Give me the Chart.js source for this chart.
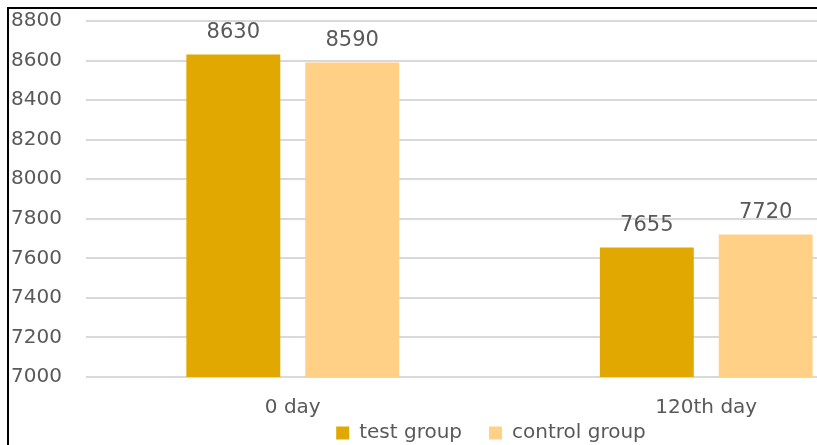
<!DOCTYPE html>
<html>
<head>
<meta charset="utf-8">
<script src="https://cdn.jsdelivr.net/npm/chart.js@4.4.1/dist/chart.umd.min.js"></script>
<style>
  html, body { margin: 0; padding: 0; background: #fff; overflow: hidden; }
  #frame {
    position: absolute; left: 7px; top: 7px;
    border-left: 2px solid #000; border-top: 2px solid #000;
    width: 808px; height: 436px; overflow: hidden;
  }
  #chart { display: block; }
</style>
</head>
<body>
<div id="frame"><canvas id="chart" width="964" height="436"></canvas></div>
<script>
const days = ['0 day', '120th day'];
const testGroup = [8630, 7655];
const controlGroup = [8590, 7720];
const yTicks = [7000, 7200, 7400, 7600, 7800, 8000, 8200, 8400, 8600, 8800];

const FONT = 'DejaVu Sans';
const GREY = '#595959';

// writes each bar's value just above it
const valueLabels = {
    id: 'valueLabels',
    afterDatasetsDraw(chart) {
        const c = chart.ctx;
        c.save();
        c.font = '21px "' + FONT + '"';
        c.fillStyle = GREY;
        c.textAlign = 'center';
        c.textBaseline = 'middle';
        chart.data.datasets.forEach((ds, i) => {
            chart.getDatasetMeta(i).data.forEach((bar, j) => {
                c.fillText(ds.data[j], bar.x, bar.y - 22);
            });
        });
        c.restore();
    }
};

// legend padding is wide between items; keep its box short and move the row
const LEGEND_DX = 30;
const LEGEND_DY = -23;
const shortLegend = {
    id: 'shortLegend',
    beforeInit(chart) {
        const legend = chart.legend;
        const fit = legend.fit;
        const draw = legend.draw;
        legend.fit = function () {
            fit.call(this);
            this.height = 26;
        };
        legend.draw = function () {
            this.top += LEGEND_DY;
            this.left += LEGEND_DX;
            this.right += LEGEND_DX;
            draw.call(this);
            this.top -= LEGEND_DY;
            this.left -= LEGEND_DX;
            this.right -= LEGEND_DX;
        };
    }
};

new Chart(document.getElementById('chart'), {
    type: 'bar',
    data: {
        labels: days,
        datasets: [
            { label: 'test group', data: testGroup, backgroundColor: '#E0A800' },
            { label: 'control group', data: controlGroup, backgroundColor: '#FFD085' }
        ]
    },
    options: {
        responsive: false,
        animation: false,
        datasets: { bar: { categoryPercentage: 0.575, barPercentage: 0.79 } },
        layout: { padding: { left: 0, top: 12, right: 60, bottom: 0 } },
        scales: {
            x: {
                grid: { display: false },
                border: { display: false },
                afterFit: (axis) => { axis.height = 42; },
                ticks: { color: GREY, font: { family: FONT, size: 20 }, padding: 11 }
            },
            y: {
                min: 7000,
                max: 8800,
                afterBuildTicks: (axis) => { axis.ticks = yTicks.map(v => ({ value: v })); },
                afterFit: (axis) => {
                    axis.width = 77;
                    axis.paddingTop = 0;
                    axis.paddingBottom = 0;
                },
                grid: { color: '#D9D9D9', lineWidth: 2, drawTicks: false },
                border: { display: false },
                ticks: {
                    color: GREY,
                    font: { family: FONT, size: 20 },
                    padding: 24,
                    callback: (v) => String(v)
                }
            }
        },
        plugins: {
            legend: {
                position: 'bottom',
                labels: {
                    color: GREY,
                    font: { family: FONT, size: 20 },
                    boxWidth: 13,
                    boxHeight: 13,
                    padding: 27
                }
            },
            tooltip: { enabled: false }
        }
    },
    plugins: [valueLabels, shortLegend]
});
</script>
</body>
</html>
